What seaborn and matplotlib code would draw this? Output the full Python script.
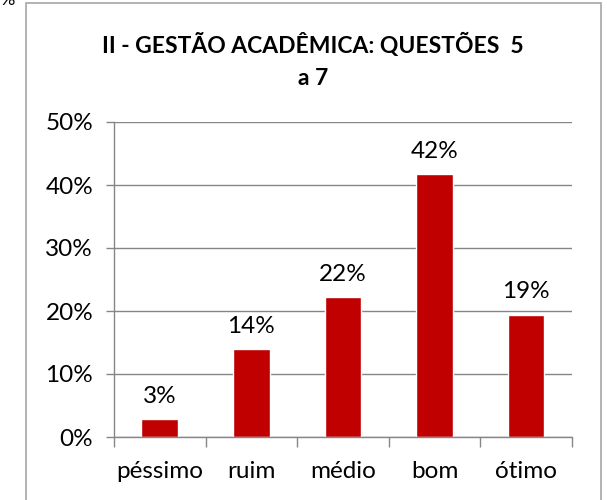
import numpy as np
import pandas as pd
import matplotlib
matplotlib.use("Agg")
import matplotlib.pyplot as plt
from matplotlib.patches import Rectangle
from matplotlib.ticker import FixedLocator, PercentFormatter
import seaborn as sns

categories = ["péssimo", "ruim", "médio", "bom", "ótimo"]
values = [2.8, 13.9, 22.2, 41.7, 19.4]
labels = ["3%", "14%", "22%", "42%", "19%"]
title = "II - GESTÃO ACADÊMICA: QUESTÕES  5\na 7"

sns.set_theme(style="white")
plt.rcParams["font.family"] = ["Lato", "DejaVu Sans"]

df = pd.DataFrame({"cat": categories, "val": values})

fig = plt.figure(figsize=(6.07, 5.0), dpi=100)
ax = fig.add_axes([0.1878, 0.126, 0.7545, 0.63])

sns.barplot(data=df, x="cat", y="val", color="#C00000", saturation=1,
            width=0.4, ax=ax)

grey = "#868686"
ax.set_ylim(0, 50)
ax.set_xlim(-0.5, 4.5)
ax.yaxis.set_major_locator(FixedLocator([0, 10, 20, 30, 40, 50]))
ax.yaxis.set_major_formatter(PercentFormatter(decimals=0))
ax.grid(axis="y", color=grey, linewidth=1)
ax.set_axisbelow(True)
ax.set_xlabel("")
ax.set_ylabel("")

for s in ["top", "right"]:
    ax.spines[s].set_visible(False)
for s in ["left", "bottom"]:
    ax.spines[s].set_color(grey)
    ax.spines[s].set_linewidth(1)

ax.xaxis.set_minor_locator(FixedLocator(np.arange(-0.5, 5, 1)))
ax.tick_params(axis="x", which="major", length=0, labelsize=17.5, pad=17,
               labelcolor="black")
ax.tick_params(axis="x", which="minor", length=7, color=grey, width=1,
               direction="out", bottom=True)
ax.tick_params(axis="y", which="major", length=6, color=grey, width=1,
               direction="out", left=True, labelsize=17.5, pad=9,
               labelcolor="black")

for i, (v, lab) in enumerate(zip(values, labels)):
    ax.annotate(lab, (i, v), xytext=(0, 9), textcoords="offset points",
                ha="center", va="bottom", fontsize=17.5, color="black")

fig.text(0.516, 0.878, title, ha="center", va="center", fontsize=16.5,
         fontweight="bold", linespacing=1.6, color="black")

# chart frame
fig.patches.append(Rectangle((26 / 607, -0.01), (601 - 26) / 607, 1.004,
                             transform=fig.transFigure, fill=False,
                             edgecolor="#A6A6A6", linewidth=1.2))
fig.text(0.0, 1.0, "%", ha="left", va="center", fontsize=13, color="black")

fig.savefig("out.png", dpi=100)
